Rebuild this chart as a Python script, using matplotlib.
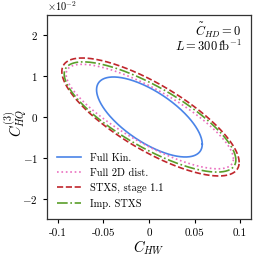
import numpy as np
import matplotlib
matplotlib.use('Agg')
import matplotlib.pyplot as plt

plt.rcParams['font.family'] = 'serif'
plt.rcParams['font.serif'] = ['cmr10']
plt.rcParams['mathtext.fontset'] = 'cm'
plt.rcParams['axes.formatter.use_mathtext'] = True
plt.rcParams['axes.unicode_minus'] = False

# Contornos (centro x, centro y, semi-ancho x, semi-alto y, correlacion)
etiquetas = ['Full Kin.', 'Full 2D dist.', 'STXS, stage 1.1', 'Imp. STXS']
centro_x = [0.0005, 0.0009, 0.0017, 0.0012]
centro_y = [0.0, 0.0001, 0.0, 0.0]
semi_x = [0.058, 0.0918, 0.0973, 0.0942]
semi_y = [0.0098, 0.0128, 0.01445, 0.0135]
correlacion = [-0.68, -0.81, -0.77, -0.78]
colores = ['#4a84e8', '#ea6fbf', '#c0262c', '#5a9e2a']
estilos = ['-', ':', '--', '-.']

x_ticks = [-0.1, -0.05, 0, 0.05, 0.1]
x_tick_labels = ['-0.1', '-0.05', '0', '0.05', '0.1']
y_ticks = [-0.02, -0.01, 0, 0.01, 0.02]

fig = plt.figure(figsize=(2.62, 2.62), dpi=100)
ax = fig.add_axes([0.179, 0.164, 0.779, 0.779])

t = np.linspace(0, 2 * np.pi, 400)
for i in range(len(etiquetas)):
    d = np.arccos(correlacion[i])
    xs = centro_x[i] + semi_x[i] * np.cos(t)
    ys = centro_y[i] + semi_y[i] * np.cos(t - d)
    ax.plot(xs, ys, color=colores[i], linestyle=estilos[i], linewidth=1.2,
            label=etiquetas[i])

ax.set_xlim(-0.112, 0.112)
ax.set_ylim(-0.025, 0.025)
ax.set_xticks(x_ticks)
ax.set_xticklabels(x_tick_labels)
ax.set_yticks(y_ticks)
ax.ticklabel_format(axis='y', style='sci', scilimits=(0, 0))
ax.yaxis.get_offset_text().set_fontsize(7.5)
ax.tick_params(labelsize=8, length=3, width=0.8)
for s in ax.spines.values():
    s.set_linewidth(0.9)
    s.set_color('#333333')

ax.set_xlabel(r'$C_{HW}$', fontsize=10.5, labelpad=1)
ax.set_ylabel(r'$C_{HQ}^{(3)}$', fontsize=10.5)
ax.yaxis.set_label_coords(-0.09, 0.47)

ax.text(0.955, 0.897, r'$\tilde{C}_{HD}=0$', transform=ax.transAxes,
        ha='right', va='baseline', fontsize=9)
ax.text(0.955, 0.823, r'$L=300\,\mathrm{fb}^{-1}$', transform=ax.transAxes,
        ha='right', va='baseline', fontsize=9)

ax.legend(loc='lower left', frameon=False, fontsize=7.5, handlelength=2.3,
          labelspacing=0.52, handletextpad=0.85, borderaxespad=0.6)

plt.savefig('out.png', dpi=100)
